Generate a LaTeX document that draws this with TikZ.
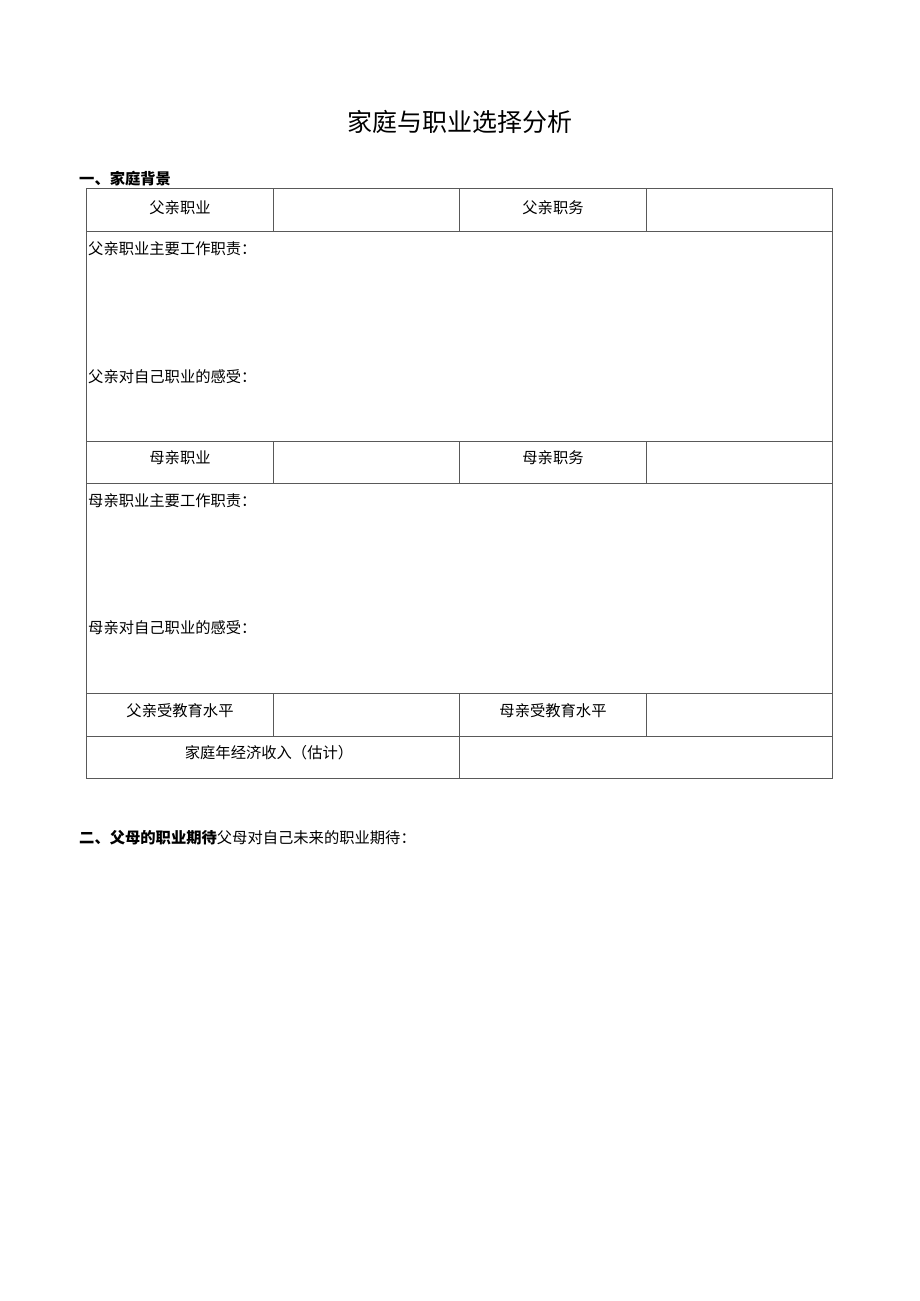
\documentclass[tikz,border=0pt]{standalone}
\usepackage{fontspec}
\newfontfamily\cjk{Noto Sans CJK SC}
\begin{document}
\begin{tikzpicture}[x=1pt,y=-1pt,
  grid/.style={draw=black!65,line width=0.9pt},
  cell/.style={font=\cjk\fontsize{15.3}{15.3}\selectfont,inner sep=0pt,anchor=center},
  ltxt/.style={font=\cjk\fontsize{15.3}{15.3}\selectfont,inner sep=0pt,anchor=west},
  head/.style={font=\cjk\bfseries\fontsize{15.3}{15.3}\selectfont,inner sep=0pt,anchor=west}]
\useasboundingbox (0,0) rectangle (920,1301);
\node[font=\cjk\fontsize{25}{25}\selectfont,inner sep=0pt] (title) at (460,122) {家庭与职业选择分析};
\node[head] (h1) at (79,179) {一、家庭背景};
% table
\draw[grid] (86,188) rectangle (832,778);
\foreach \y in {231,441,483,693,736} \draw[grid] (86,\y) -- (832,\y);
\draw[grid] (273,188) -- (273,231);
\draw[grid] (459,188) -- (459,231);
\draw[grid] (646,188) -- (646,231);
\draw[grid] (273,441) -- (273,483);
\draw[grid] (459,441) -- (459,483);
\draw[grid] (646,441) -- (646,483);
\draw[grid] (273,693) -- (273,736);
\draw[grid] (459,693) -- (459,778);
\draw[grid] (646,693) -- (646,736);
\node[cell] (fz) at (180,208) {父亲职业};
\node[cell] (fw) at (553,208) {父亲职务};
\node[ltxt] (fd) at (88,249) {父亲职业主要工作职责：};
\node[ltxt] (ff) at (88,377) {父亲对自己职业的感受：};
\node[cell] (mz) at (180,458) {母亲职业};
\node[cell] (mw) at (553,458) {母亲职务};
\node[ltxt] (md) at (88,501) {母亲职业主要工作职责：};
\node[ltxt] (mf) at (88,628) {母亲对自己职业的感受：};
\node[cell] (fe) at (180,711) {父亲受教育水平};
\node[cell] (me) at (553,711) {母亲受教育水平};
\node[cell] (inc) at (269,753) {家庭年经济收入（估计）};
\node[head] (h2) at (79,838) {二、父母的职业期待\mdseries 父母对自己未来的职业期待：};
\end{tikzpicture}
\end{document}
